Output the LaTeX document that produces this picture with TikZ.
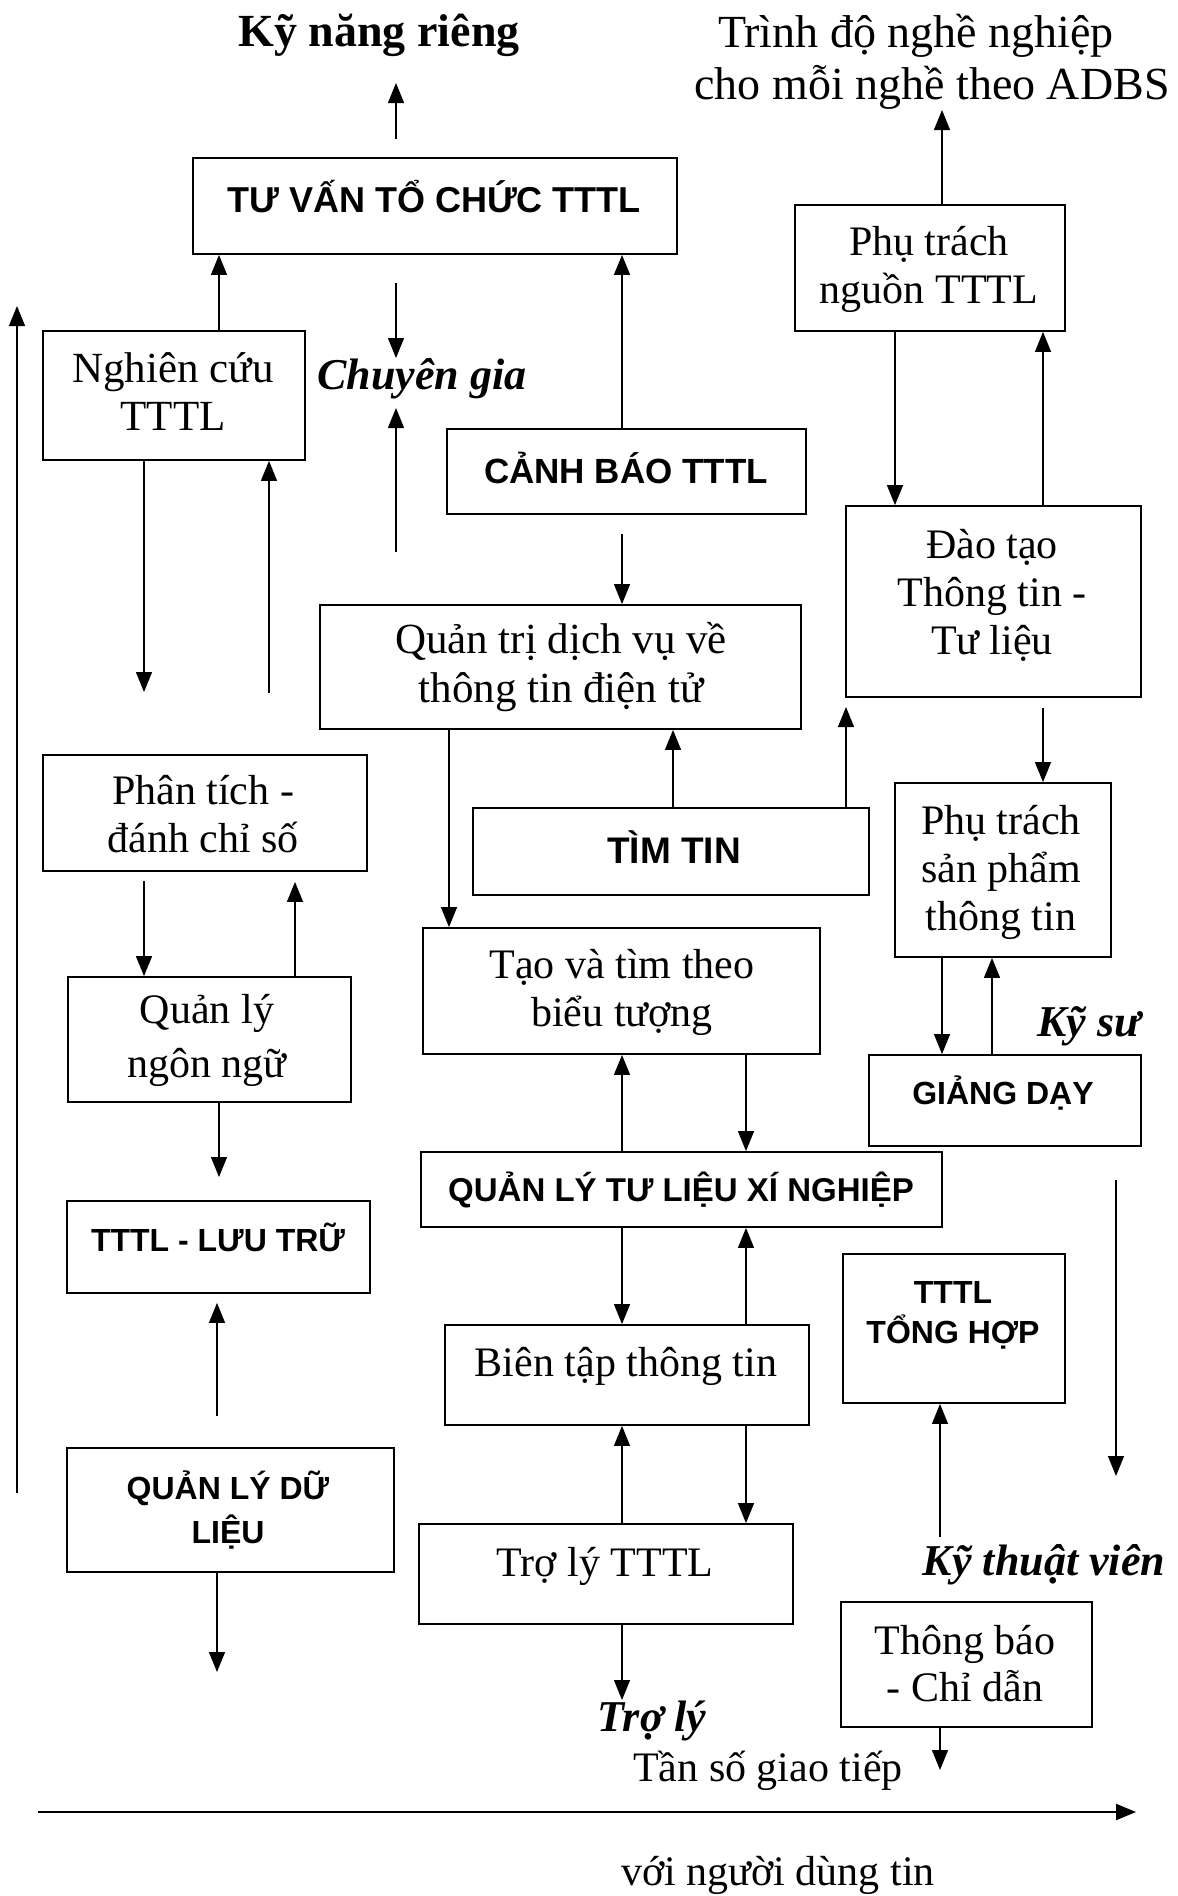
\documentclass[tikz,border=0pt]{standalone}
\usepackage{fontspec}
\setmainfont{Liberation Serif}
\setsansfont{Liberation Sans}
\usetikzlibrary{arrows.meta}
\begin{document}
\begin{tikzpicture}[x=1pt,y=-1pt,
  box/.style={draw, line width=1.8pt, inner sep=0pt},
  arr/.style={line width=1.3pt, -{Triangle[length=20pt,width=16pt]}},
  ser/.style={font=\fontsize{42}{48}\selectfont, align=center, inner sep=0pt},
  serone/.style={font=\fontsize{42}{48}\selectfont, inner sep=0pt, text height=31.5pt, text depth=6.3pt},
  sanbig/.style={font=\sffamily\bfseries\fontsize{36}{40}\selectfont, inner sep=0pt, text height=26pt, text depth=0pt},
  sansm/.style={font=\sffamily\bfseries\fontsize{32}{36}\selectfont, inner sep=0pt, text height=23pt, text depth=0pt},
  sansmulti/.style={inner sep=0pt, align=center},
  emphlbl/.style={font=\bfseries\itshape\fontsize{44}{50}\selectfont, inner sep=0pt, text height=33pt, text depth=6.6pt},
]
\useasboundingbox (0,0) rectangle (1178,1896);

% x positions for vertical connectors
\coordinate (X17) at (17,0);
\coordinate (X144) at (144,0);
\coordinate (X217) at (217,0);
\coordinate (X219) at (219,0);
\coordinate (X269) at (269,0);
\coordinate (X295) at (295,0);
\coordinate (X396) at (396,0);
\coordinate (X449) at (449,0);
\coordinate (X622) at (622,0);
\coordinate (X673) at (673,0);
\coordinate (X746) at (746,0);
\coordinate (X846) at (846,0);
\coordinate (X895) at (895,0);
\coordinate (X940) at (940,0);
\coordinate (X942) at (942,0);
\coordinate (X992) at (992,0);
\coordinate (X1043) at (1043,0);

% boxes
\node[box, minimum width=484pt, minimum height=96pt] (tuvan) at (435,206) {};
\node[box, minimum width=262pt, minimum height=129pt] (nghien) at (174,395.5) {};
\node[box, minimum width=359pt, minimum height=85pt] (canhbao) at (626.5,471.5) {};
\node[box, minimum width=481pt, minimum height=124pt] (quantri) at (560.5,667) {};
\node[box, minimum width=270pt, minimum height=126pt] (pnguon) at (930,268) {};
\node[box, minimum width=295pt, minimum height=191pt] (daotao) at (993.5,601.5) {};
\node[box, minimum width=324pt, minimum height=116pt] (phantich) at (205,813) {};
\node[box, minimum width=396pt, minimum height=87pt] (timtin) at (671,851.5) {};
\node[box, minimum width=216pt, minimum height=174pt] (psp) at (1003,870) {};
\node[box, minimum width=397pt, minimum height=126pt] (taovatim) at (621.5,991) {};
\node[box, minimum width=283pt, minimum height=125pt] (quanlynn) at (209.5,1039.5) {};
\node[box, minimum width=272pt, minimum height=91pt] (giangday) at (1005,1100.5) {};
\node[box, minimum width=521pt, minimum height=75pt] (qltl) at (681.5,1189.5) {};
\node[box, minimum width=303pt, minimum height=92pt] (luutru) at (218.5,1247) {};
\node[box, minimum width=222pt, minimum height=149pt] (tonghop) at (954,1328.5) {};
\node[box, minimum width=364pt, minimum height=100pt] (bientap) at (627,1375) {};
\node[box, minimum width=327pt, minimum height=124pt] (qldl) at (230.5,1510) {};
\node[box, minimum width=374pt, minimum height=100pt] (troly) at (606,1574) {};
\node[box, minimum width=251pt, minimum height=125pt] (thongbao) at (966.5,1664.5) {};

% box texts
\node[sanbig] (tuvan-t) at (434,199) {TƯ VẤN TỔ CHỨC TTTL};
\node[ser, font=\fontsize{43}{48}\selectfont] (nghien-t) at (173,392) {Nghiên cứu\\TTTL};
\node[sanbig, font=\sffamily\bfseries\fontsize{35}{40}\selectfont] (canhbao-t) at (626,470) {CẢNH BÁO TTTL};
\node[ser, font=\fontsize{43}{49}\selectfont] (quantri-t) at (561,667) {Quản trị dịch vụ về\\thông tin điện tử};
\node[ser] (pnguon-t) at (929,269) {Phụ trách\\nguồn TTTL};
\node[ser] (daotao-t) at (992,595) {Đào tạo\\Thông tin -\\Tư liệu};
\node[ser] (phantich-t) at (203,814) {Phân tích -\\đánh chỉ số};
\node[sanbig, font=\sffamily\bfseries\fontsize{37}{40}\selectfont] (timtin-t) at (674,850) {TÌM TIN};
\node[ser] (psp-t) at (1001,872) {Phụ trách\\sản phẩm\\thông tin};
\node[ser] (taovatim-t) at (622,992) {Tạo và tìm theo\\biểu tượng};
\node[ser, font=\fontsize{42}{54}\selectfont] (quanlynn-t) at (207,1040) {Quản lý\\ngôn ngữ};
\node[sansm] (giangday-t) at (1003,1093) {GIẢNG DẠY};
\node[sansm, font=\sffamily\bfseries\fontsize{33}{36}\selectfont] (qltl-t) at (681,1190) {QUẢN LÝ TƯ LIỆU XÍ NGHIỆP};
\node[sansm] (luutru-t) at (218,1240) {TTTL - LƯU TRỮ};
\node[sansmulti, font=\sffamily\bfseries\fontsize{32}{40}\selectfont] (tonghop-t) at (953,1315) {TTTL\\TỔNG HỢP};
\node[serone] (bientap-t) at (626,1364) {Biên tập thông tin};
\node[sansmulti, font=\sffamily\bfseries\fontsize{32}{44}\selectfont] (qldl-t) at (228,1510) {QUẢN LÝ DỮ\\LIỆU};
\node[serone] (troly-t) at (605,1564) {Trợ lý TTTL};
\node[ser, font=\fontsize{42}{47}\selectfont] (thongbao-t) at (965,1664) {Thông báo\\- Chỉ dẫn};

% free labels
\node[inner sep=0pt, font=\bfseries\fontsize{46}{52}\selectfont, text height=34.5pt, text depth=6.9pt] (kynang) at (379,33) {Kỹ năng riêng};
\node[inner sep=0pt, align=center, font=\fontsize{46}{52}\selectfont] (trinhdo) at (932,62) {Trình độ nghề nghiệp\hspace*{32pt}\\cho mỗi nghề theo ADBS};
\node[emphlbl] (chuyengia) at (422,376) {Chuyên gia};
\node[emphlbl] (kysu) at (1089,1023) {Kỹ sư};
\node[emphlbl] (kythuatvien) at (1044,1562) {Kỹ thuật viên};
\node[emphlbl] (trolylbl) at (652,1718) {Trợ lý};
\node[serone] (tanso) at (768,1769) {Tần số giao tiếp};
\node[serone] (voinguoi) at (778,1873) {với người dùng tin};

% free ends
\coordinate (T1) at (396,83);
\coordinate (T3) at (396,358);
\coordinate (T4) at (396,408);
\coordinate (T7) at (144,692);
\coordinate (S8) at (269,693);
\coordinate (T11) at (219,1177);
\coordinate (T13) at (217,1672);
\coordinate (S14) at (17,1493);
\coordinate (T14) at (17,306);
\coordinate (T17) at (846,707);
\coordinate (T24) at (622,1700);
\coordinate (T25) at (942,110);
\coordinate (S31) at (1116,1180);
\coordinate (T31) at (1116,1476);
\coordinate (S32) at (940,1537);
\coordinate (T33) at (940,1770);
\coordinate (S34) at (38,1812);
\coordinate (T34) at (1136,1812);

% connectors
\draw[arr, shorten <=18pt] (tuvan.north -| X396) -- (T1);
\draw[arr] (nghien.north -| X219) -- (tuvan.south -| X219);
\draw[arr, shorten <=28pt] (tuvan.south -| X396) -- (T3);
\draw[arr, shorten <=52pt] (quantri.north -| X396) -- (T4);
\draw[arr] (canhbao.north -| X622) -- (tuvan.south -| X622);
\draw[arr, shorten <=19pt] (canhbao.south -| X622) -- (quantri.north -| X622);
\draw[arr] (nghien.south -| X144) -- (T7);
\draw[arr] (S8) -- (nghien.south -| X269);
\draw[arr, shorten <=9pt] (phantich.south -| X144) -- (quanlynn.north -| X144);
\draw[arr, shorten >=10pt] (quanlynn.north -| X295) -- (phantich.south -| X295);
\draw[arr] (quanlynn.south -| X219) -- (T11);
\draw[arr, shorten <=31pt, shorten >=9pt] (qldl.north -| X217) -- (luutru.south -| X217);
\draw[arr] (qldl.south -| X217) -- (T13);
\draw[arr] (S14) -- (T14);
\draw[arr] (quantri.south -| X449) -- (taovatim.north -| X449);
\draw[arr] (timtin.north -| X673) -- (quantri.south -| X673);
\draw[arr] (timtin.north -| X846) -- (T17);
\draw[arr] (qltl.north -| X622) -- (taovatim.south -| X622);
\draw[arr] (taovatim.south -| X746) -- (qltl.north -| X746);
\draw[arr] (qltl.south -| X622) -- (bientap.north -| X622);
\draw[arr] (bientap.north -| X746) -- (qltl.south -| X746);
\draw[arr] (troly.north -| X622) -- (bientap.south -| X622);
\draw[arr] (bientap.south -| X746) -- (troly.north -| X746);
\draw[arr] (troly.south -| X622) -- (T24);
\draw[arr] (pnguon.north -| X942) -- (T25);
\draw[arr] (pnguon.south -| X895) -- (daotao.north -| X895);
\draw[arr] (daotao.north -| X1043) -- (pnguon.south -| X1043);
\draw[arr, shorten <=10pt] (daotao.south -| X1043) -- (psp.north -| X1043);
\draw[arr] (psp.south -| X942) -- (giangday.north -| X942);
\draw[arr] (giangday.north -| X992) -- (psp.south -| X992);
\draw[arr] (S31) -- (T31);
\draw[arr] (S32) -- (tonghop.south -| X940);
\draw[arr] (thongbao.south -| X940) -- (T33);
\draw[arr, line width=2.2pt] (S34) -- (T34);
\end{tikzpicture}
\end{document}
